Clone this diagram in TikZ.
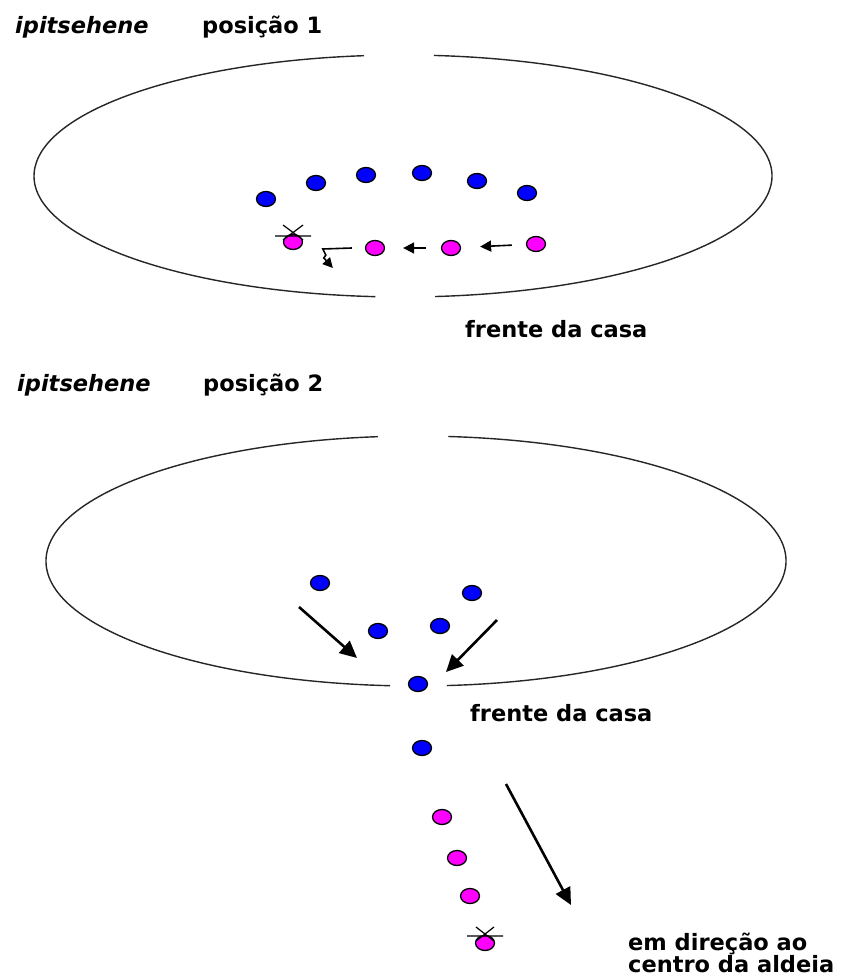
\documentclass[tikz,border=0pt]{standalone}
\usepackage{fontspec}
\setmainfont{DejaVu Sans}
\usetikzlibrary{arrows.meta,shapes.geometric}

\definecolor{dotblue}{RGB}{0,0,255}
\definecolor{dotpink}{RGB}{255,0,255}

\tikzset{
  person/.style={ellipse,draw=black,line width=1.3pt,minimum width=19pt,minimum height=15pt,inner sep=0pt},
  blue person/.style={person,fill=dotblue},
  pink person/.style={person,fill=dotpink},
  txt/.style={anchor=base west,inner sep=0pt,font=\fontsize{22.5}{22}\selectfont\bfseries},
  txt it/.style={txt,font=\fontsize{22.5}{22}\selectfont\bfseries\itshape},
  house/.style={line width=1.4pt,black!85},
  big arrow/.style={line width=2.6pt,-{Triangle[length=17pt,width=16pt]}},
  small arrow/.style={line width=1.6pt,-{Triangle[length=11pt,width=11pt]}},
  chief/.style={line width=1.2pt}
}

\begin{document}
\begin{tikzpicture}[x=1pt,y=-1pt]
\useasboundingbox (0,0) rectangle (841,979);

% first position
\node[txt it] (chief1) at (15,34) {ipitsehene};
\node[txt] (pos1) at (202,34) {posição 1};

\draw[house] (403,176) ++(274.8:369 and 121) arc[start angle=274.8,end angle=445.0,x radius=369,y radius=121];
\draw[house] (403,176) ++(94.3:369 and 121) arc[start angle=94.3,end angle=263.9,x radius=369,y radius=121];

\node[blue person] (b1) at (266,199) {};
\node[blue person] (b2) at (316,183) {};
\node[blue person] (b3) at (366,175) {};
\node[blue person] (b4) at (422,173) {};
\node[blue person] (b5) at (477,181) {};
\node[blue person] (b6) at (527,193) {};

\node[pink person] (p1) at (293,242) {};
\node[pink person] (p2) at (375,248) {};
\node[pink person] (p3) at (451,248) {};
\node[pink person] (p4) at (536,244) {};

\draw[chief] (p1.center) ++(-18,-6) -- ++(36,0)
  (p1.center) ++(-10,-17) -- ++(20,15)
  (p1.center) ++(10,-17) -- ++(-20,15);

\draw[small arrow,shorten <=14pt,shorten >=19pt] (p4) -- (p3);
\draw[small arrow,shorten <=15pt,shorten >=18pt] (p3) -- (p2);
\draw[line width=1.6pt,-{Triangle[length=10pt,width=10pt]}] ([xshift=-13pt]p2.west) -- ++(-29,1) -- ++(3,6) -- ++(-2,3) -- ++(9,10);

\node[txt] (front1) at (465,337) {frente da casa};

% second position
\node[txt it] (chief2) at (17,391) {ipitsehene};
\node[txt] (pos2) at (203,391) {posição 2};

\draw[house] (416,561) ++(275.0:370 and 125) arc[start angle=275.0,end angle=445.2,x radius=370,y radius=125];
\draw[house] (416,561) ++(94.0:370 and 125) arc[start angle=94.0,end angle=264.1,x radius=370,y radius=125];

\node[blue person] (b7) at (320,583) {};
\node[blue person] (b8) at (378,631) {};
\node[blue person] (b9) at (440,626) {};
\node[blue person] (b10) at (472,593) {};
\node[blue person] (b11) at (418,684) {};
\node[blue person] (b12) at (422,748) {};

\node[pink person] (p5) at (442,817) {};
\node[pink person] (p6) at (457,858) {};
\node[pink person] (p7) at (470,896) {};
\node[pink person] (p8) at (485,943) {};

\draw[chief] (p8.center) ++(-18,-7) -- ++(36,0)
  (p8.center) ++(-9,-16) -- ++(18,14)
  (p8.center) ++(9,-16) -- ++(-18,14);

\coordinate (l0) at (299,607);
\coordinate (l1) at (357,658);
\coordinate (r0) at (497,620);
\coordinate (r1) at (446,672);
\coordinate (c0) at (506,784);
\coordinate (c1) at (571,905);
\draw[big arrow] (l0) -- (l1);
\draw[big arrow] (r0) -- (r1);
\draw[big arrow] (c0) -- (c1);

\node[txt] (front2) at (470,721) {frente da casa};
\node[txt,align=left] (centre) at (628,972) {em direção ao\\centro da aldeia};

\end{tikzpicture}
\end{document}
